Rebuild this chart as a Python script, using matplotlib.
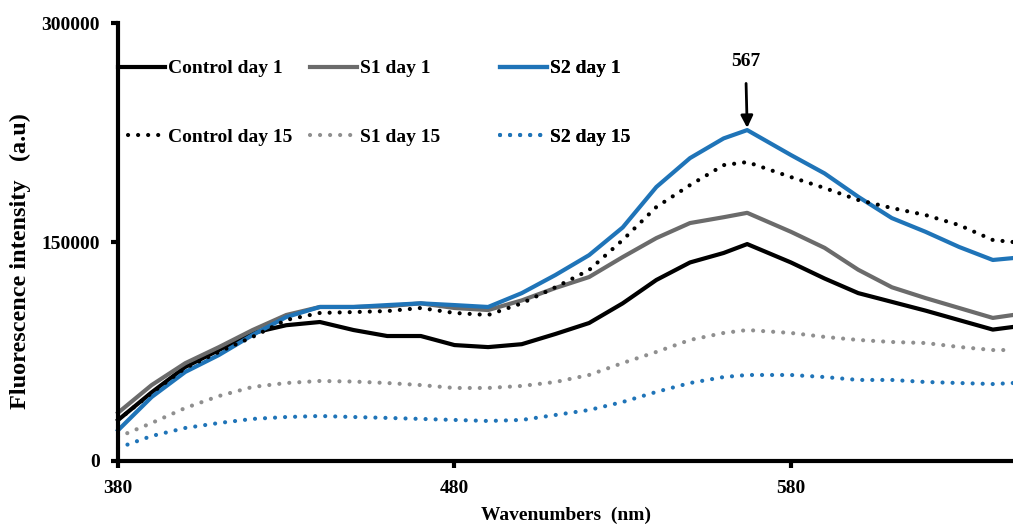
import matplotlib
matplotlib.use("Agg")
import matplotlib.pyplot as plt

wavelength = [380, 390, 400, 410, 420, 430, 440, 450, 460, 470, 480, 490, 500, 510, 520,
              530, 540, 550, 560, 567, 580, 590, 600, 610, 620, 630, 640, 646]

control_d1 = [28000, 47000, 64400, 76000, 87700, 93000, 95200, 89700, 85600, 85600, 79400, 78000,
              80000, 87000, 94500, 108000, 124000, 136000, 142500, 148600, 136000, 125000, 115000,
              109000, 103000, 96500, 90000, 91800]
s1_d1 = [33000, 52000, 67000, 78000, 89700, 100000, 105500, 105500, 106000, 108000, 104800, 103400,
         110000, 118500, 126000, 139700, 152700, 163000, 167000, 170000, 157000, 146000, 131000,
         119000, 111600, 104800, 98000, 100000]
s2_d1 = [21000, 43800, 61000, 72600, 86300, 98600, 105500, 105500, 106800, 108000, 106800, 105500,
         115000, 127400, 141000, 160000, 187700, 207500, 221000, 226700, 209600, 197000, 181000,
         166400, 157000, 146600, 137700, 139000]
control_d15 = [28000, 46600, 63700, 74700, 85000, 96600, 101400, 102000, 102700, 104800, 101400, 100000,
               108000, 119000, 130800, 151400, 174000, 189000, 202700, 204800, 194500, 187000, 178800,
               173300, 168500, 161600, 151400, 150000]
s1_d15 = [16400, 26000, 36300, 44500, 50700, 53400, 54800, 54400, 53400, 52000, 50000, 50000,
          51400, 54100, 58900, 67100, 74700, 82900, 87700, 89700, 87700, 85000, 82900, 81500,
          80800, 78100, 76000, 76000]
s2_d15 = [8900, 17100, 22600, 26000, 28800, 30100, 30800, 30100, 29500, 28800, 28100, 27400,
          28100, 31500, 34900, 40400, 47300, 53400, 57500, 58900, 58900, 57500, 55500, 55500,
          54100, 53400, 52700, 53400]

labels = ["Control day 1", "S1 day 1", "S2 day 1", "Control day 15", "S1 day 15", "S2 day 15"]
x_ticks = [380, 480, 580]
y_ticks = [0, 150000, 300000]
peak_label = "567"

plt.rcParams['font.family'] = ['Liberation Serif', 'DejaVu Serif']
plt.rcParams['font.weight'] = 'bold'

fig = plt.figure(figsize=(10.13, 5.25), dpi=100)
ax = fig.add_axes([0.1165, 0.122, 0.8835, 0.834])

dot = (0, (0.01, 2.4))
styles = [
    dict(color='#000000', lw=3, ls='-'),
    dict(color='#6b6b6b', lw=3, ls='-'),
    dict(color='#1f74b8', lw=3, ls='-'),
    dict(color='#000000', lw=3, ls=dot, dash_capstyle='round'),
    dict(color='#8f8f8f', lw=3, ls=dot, dash_capstyle='round'),
    dict(color='#1f74b8', lw=3, ls=dot, dash_capstyle='round'),
]
series = [control_d1, s1_d1, s2_d1, control_d15, s1_d15, s2_d15]
handles = []
for y, st, lab in zip(series, styles, labels):
    h, = ax.plot(wavelength, y, label=lab, clip_on=False, **st)
    handles.append(h)

ax.set_xlim(380, 646)
ax.set_ylim(0, 300000)
ax.set_xticks(x_ticks)
ax.set_yticks(y_ticks)
ax.set_xticklabels([str(v) for v in x_ticks])
ax.set_yticklabels([str(v) for v in y_ticks])
for s in ['top', 'right']:
    ax.spines[s].set_visible(False)
for s in ['left', 'bottom']:
    ax.spines[s].set_linewidth(3)
ax.tick_params(axis='both', direction='out', length=5, width=3, labelsize=14)
ax.tick_params(axis='x', pad=9)
ax.tick_params(axis='y', pad=8)
ax.set_xlabel("Wavenumbers  (nm)", fontsize=14, fontweight='bold')
ax.xaxis.set_label_coords(0.5, -0.105)
ax.set_ylabel("Fluorescence intensity   (a.u)", fontsize=17.5, fontweight='bold')
ax.yaxis.set_label_coords(-0.097, 0.457)

ipk = wavelength.index(567)
ax.annotate(peak_label, xy=(567, s2_d1[ipk] + 1500), xytext=(566.5, 274000),
            ha='center', va='center', fontsize=14, fontweight='bold',
            arrowprops=dict(arrowstyle='-|>', color='black', lw=2, mutation_scale=18,
                            shrinkA=8, shrinkB=0))

# three legend columns
col_x = [0.0, 0.2145, 0.427]
for c in range(3):
    hs = [handles[c], handles[c + 3]]
    leg = ax.legend(hs, [labels[c], labels[c + 3]], loc='upper left',
                    bbox_to_anchor=(col_x[c], 0.916), bbox_transform=ax.transAxes,
                    frameon=False, handlelength=2.4, handletextpad=0.15,
                    labelspacing=2.6, borderpad=0, borderaxespad=0,
                    prop={'weight': 'bold', 'size': 14})
    ax.add_artist(leg)

fig.savefig("out.png", dpi=100)
